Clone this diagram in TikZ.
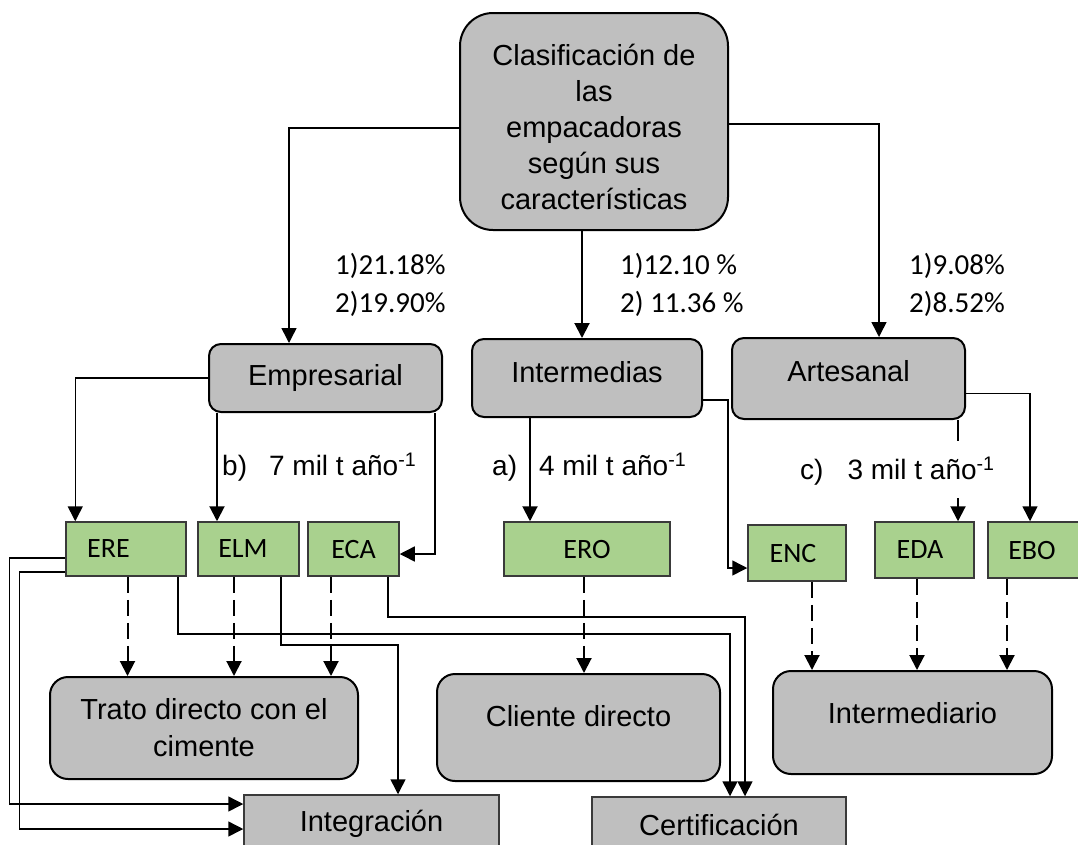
\documentclass[tikz,border=0pt]{standalone}
\usepackage{fontspec}
\setmainfont{Liberation Sans}
\newfontfamily\calfont{Carlito}
\usetikzlibrary{arrows.meta,calc}
\definecolor{boxgray}{HTML}{BFBFBF}
\definecolor{boxgreen}{HTML}{A9D18E}
\definecolor{edgegray}{HTML}{3A3A3A}
\begin{document}
\begin{tikzpicture}[x=1pt,y=-1pt,
  bigtxt/.style={font=\fontsize{29}{36}\selectfont},
  topbox/.style={draw=black, line width=2pt, fill=boxgray, rounded corners=33pt, inner sep=0pt, align=center, bigtxt},
  midbox/.style={draw=black, line width=2pt, fill=boxgray, rounded corners=12pt, inner sep=0pt, align=center, bigtxt},
  lowbox/.style={draw=black, line width=2pt, fill=boxgray, rounded corners=18pt, inner sep=0pt, align=center, font=\fontsize{29}{37}\selectfont},
  sqbox/.style={draw=edgegray, line width=1.5pt, fill=boxgray, inner sep=0pt, bigtxt},
  gbox/.style={draw=edgegray, line width=1.5pt, fill=boxgreen, inner sep=0pt, font=\calfont\fontsize{28}{32}\selectfont},
  pct/.style={font=\calfont\fontsize{29}{38}\selectfont, align=left, inner sep=0pt, anchor=west},
  lab/.style={font=\fontsize{28}{32}\selectfont, inner sep=0pt, anchor=west},
  tip/.style={-{Triangle[width=15pt,length=15pt]}},
  arr/.style={tip, line width=2pt},
  elbow/.style={tip, line width=1.5pt},
  plain/.style={line width=1.5pt},
  dasharr/.style={tip, line width=2pt, dash pattern=on 16pt off 7pt}
]
\useasboundingbox (0,0) rectangle (1078,844);

% main boxes
\node[topbox, minimum width=268pt, minimum height=217pt] (top) at (594,121.5)
  {\rule{0pt}{33pt}Clasificación de\\las\\empacadoras\\según sus\\características};
\node[midbox, minimum width=233pt, minimum height=68pt] (emp) at (325.5,378) {Empresarial};
\node[midbox, minimum width=230pt, minimum height=78pt, text depth=12pt] (inter) at (587,378) {Intermedias};
\node[midbox, minimum width=233pt, minimum height=81pt, text depth=16pt] (art) at (848.5,378.5) {Artesanal};

% green boxes
\node[gbox, minimum width=120pt, minimum height=54pt] (ERE) at (126,549) {ERE\hspace*{35pt}};
\node[gbox, minimum width=101pt, minimum height=54pt] (ELM) at (248.5,549) {ELM\hspace*{11pt}};
\node[gbox, minimum width=91pt, minimum height=54pt] (ECA) at (353.5,549) {ECA};
\node[gbox, minimum width=166pt, minimum height=54pt] (ERO) at (587,549) {ERO};
\node[gbox, minimum width=98pt, minimum height=56pt] (ENC) at (797,553) {ENC\hspace*{8pt}};
\node[gbox, minimum width=99pt, minimum height=56pt] (EDA) at (924.5,550) {EDA\hspace*{9pt}};
\node[gbox, minimum width=110pt, minimum height=56pt] (EBO) at (1043,550) {EBO\hspace*{22pt}};

% lower boxes
\node[lowbox, minimum width=308pt, minimum height=102pt] (trato) at (204,728) {Trato directo con el\\cimente};
\node[lowbox, minimum width=283pt, minimum height=107pt, text depth=23pt] (cliente) at (578.5,727.5) {Cliente directo};
\node[lowbox, minimum width=279pt, minimum height=103pt, text depth=19pt] (interm) at (912.5,722.5) {Intermediario};
\node[sqbox, minimum width=255pt, minimum height=58pt] (integ) at (371.5,824) {Integración};
\node[sqbox, minimum width=254pt, minimum height=56pt] (cert) at (719,825) {Certificación};

% labels
\node[pct] (p1) at (335,285) {1)21.18\%\\2)19.90\%};
\node[pct] (p2) at (620,285) {1)12.10 \%\\2) 11.36 \%};
\node[pct] (p3) at (909,285) {1)9.08\%\\2)8.52\%};
\node[lab] (lb) at (222,467) {b)\hspace*{22pt}7 mil t año\textsuperscript{-1}};
\node[lab] (la) at (492,467) {a)\hspace*{22pt}4 mil t año\textsuperscript{-1}};
\node[lab] (lc) at (800,471) {c)\hspace*{24pt}3 mil t año\textsuperscript{-1}};

% top level connectors
\draw[elbow] ([yshift=-6.5pt]top.west) -| ([xshift=81pt]emp.north west);
\draw[elbow] ([yshift=-2.5pt]top.east) -| ([xshift=30.5pt]art.north);
\draw[arr] ([xshift=-12pt]top.south) -- ([xshift=-12pt]top.south |- inter.north);

% Empresarial
\draw[elbow] (emp.west) -| ([xshift=10pt]ERE.north west);
\draw[arr] ([xshift=9pt]emp.south west) -- ([xshift=9pt]emp.south west |- ELM.north);
\draw[elbow] ([xshift=-8pt]emp.south east) |- ([yshift=-5pt]ECA.east);

% Intermedias
\draw[arr] ([xshift=-57pt]inter.south) -- ([xshift=-57pt]inter.south |- ERO.north);
\draw[elbow] ([yshift=-22pt]inter.east) -- ++(25,0) |- ([yshift=-15pt]ENC.west);

% Artesanal
\coordinate (cgap) at (958,498);
\draw[plain] ([xshift=109.5pt]art.south) -- ++(0,21);
\draw[arr] (cgap) -- (cgap |- EDA.north);
\draw[elbow] ([yshift=-15pt]art.east) -| ([xshift=-13pt]EBO.north);

% dashed arrows
\draw[dasharr] ([xshift=1.5pt]ERE.south) -- ([xshift=1.5pt]ERE.south |- trato.north);
\draw[dasharr] ([xshift=-14.5pt]ELM.south) -- ([xshift=-14.5pt]ELM.south |- trato.north);
\draw[dasharr] ([xshift=-22.5pt]ECA.south) -- ([xshift=-22.5pt]ECA.south |- trato.north);
\draw[dasharr] ([xshift=-3pt]ERO.south) -- ([xshift=-3pt]ERO.south |- cliente.north);
\draw[dasharr] ([xshift=15pt]ENC.south) -- ([xshift=15pt]ENC.south |- interm.north);
\draw[dasharr] ([xshift=-7.5pt]EDA.south) -- ([xshift=-7.5pt]EDA.south |- interm.north);
\draw[dasharr] ([xshift=-36pt]EBO.south) -- ([xshift=-36pt]EBO.south |- interm.north);

% integration / certification
\draw[elbow] ([yshift=-9pt]ERE.west) -- ++(-56,0) |- ([yshift=20pt]integ.west);
\draw[elbow] ([yshift=-23pt]ERE.west) -- ++(-46,0) |- ([yshift=-5pt]integ.west);
\draw[elbow] ([xshift=52pt]ERE.south) -- ++(0,57) -| ([xshift=11pt]cert.north);
\draw[elbow] ([xshift=34.5pt]ECA.south) -- ++(0,40) -| ([xshift=26pt]cert.north);
\draw[elbow] ([xshift=32.5pt]ELM.south) -- ++(0,68) -| ([xshift=26.5pt]integ.north);
\end{tikzpicture}
\end{document}
